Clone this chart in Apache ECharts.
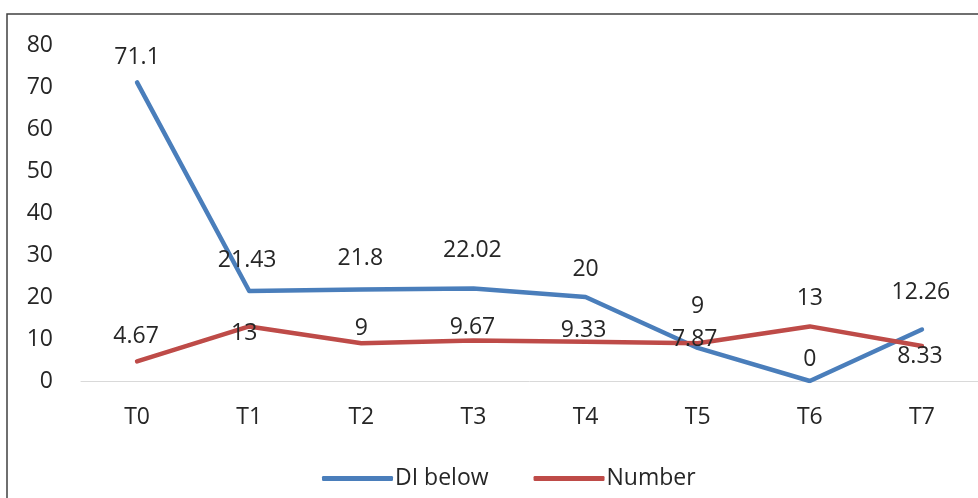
<!DOCTYPE html>
<html>
<head>
    <meta charset="utf-8">
    <title>DI below / Number</title>
    <script src="https://cdn.jsdelivr.net/npm/echarts@6/dist/echarts.min.js"></script>
    <style>
        html, body { margin: 0; padding: 0; background: #fff; }
        #chart1 { width: 978px; height: 498px; }
    </style>
</head>
<body>
<div id="chart1"></div>
<script type="text/javascript">
    // data
    var categories = ['T0', 'T1', 'T2', 'T3', 'T4', 'T5', 'T6', 'T7'];
    var diBelow = [71.1, 21.43, 21.8, 22.02, 20, 7.87, 0, 12.26];
    var number = [4.67, 13, 9, 9.67, 9.33, 9, 13, 8.33];
    var yTicks = [0, 10, 20, 30, 40, 50, 60, 70, 80];

    // where each value label sits relative to its point (label centre)
    var diLabelOffset = [[0, -25], [-2, -31], [-1, -31], [-1, -38], [0, -28], [-3, -8], [0, -22], [-1, -37]];
    var numLabelOffset = [[-1, -25], [-5, 7], [0, -15], [-1, -13], [-2, -11], [0, -37], [0, -28], [-2, 10]];

    var font = '"Open Sans", Lato, sans-serif';
    var textColor = '#262626';

    function withLabels(values, offsets) {
        return values.map(function (v, i) {
            return { value: v, label: { offset: offsets[i] } };
        });
    }

    var myChart1 = echarts.init(document.getElementById('chart1'));

    myChart1.setOption({
        animation: false,
        backgroundColor: '#fff',
        textStyle: { fontFamily: font },
        grid: { left: 81, top: 45, width: 900, height: 336, containLabel: false },
        legend: {
            left: 317,
            top: 462,
            itemWidth: 71,
            itemHeight: 5,
            itemGap: 45,
            icon: 'roundRect',
            textStyle: { fontFamily: font, fontSize: 23, color: textColor, padding: [0, 0, 0, -3] },
            data: ['DI below', 'Number']
        },
        graphic: [{
            type: 'polyline',
            shape: { points: [[7, 498], [7, 14], [978, 14]] },
            style: { stroke: '#404040', lineWidth: 1.5, fill: null }
        }],
        xAxis: {
            type: 'category',
            data: categories,
            boundaryGap: true,
            axisLine: { lineStyle: { color: '#d9d9d9', width: 1 } },
            axisTick: { show: false },
            axisLabel: { fontFamily: font, fontSize: 23, color: textColor, margin: 25 }
        },
        yAxis: {
            type: 'value',
            min: yTicks[0],
            max: yTicks[yTicks.length - 1],
            interval: 10,
            axisLine: { show: false },
            axisTick: { show: false },
            splitLine: { show: false },
            axisLabel: { fontFamily: font, fontSize: 23, color: textColor, margin: 28 }
        },
        series: [{
            name: 'DI below',
            type: 'line',
            data: withLabels(diBelow, diLabelOffset),
            symbol: 'circle',
            symbolSize: 1,
            color: '#4a7ebb',
            lineStyle: { width: 4.5, color: '#4a7ebb', cap: 'round', join: 'round' },
            label: {
                show: true, position: 'inside', align: 'center', verticalAlign: 'middle',
                fontFamily: font, fontSize: 23, color: textColor
            }
        }, {
            name: 'Number',
            type: 'line',
            data: withLabels(number, numLabelOffset),
            symbol: 'circle',
            symbolSize: 1,
            color: '#be4b48',
            lineStyle: { width: 4.5, color: '#be4b48', cap: 'round', join: 'round' },
            label: {
                show: true, position: 'inside', align: 'center', verticalAlign: 'middle',
                fontFamily: font, fontSize: 23, color: textColor
            }
        }]
    });
</script>
</body>
</html>
